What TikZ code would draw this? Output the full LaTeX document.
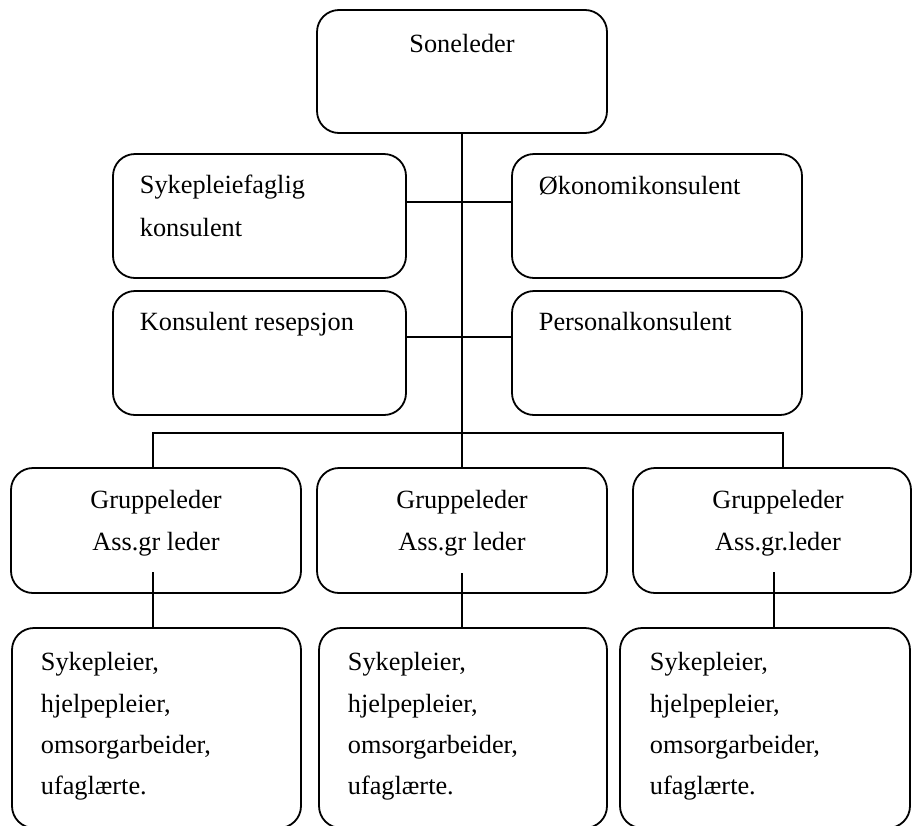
\documentclass[tikz,border=0pt]{standalone}
\usepackage{fontspec}
\setmainfont{Liberation Serif}
\begin{document}
\begin{tikzpicture}[x=1pt,y=-1pt,line width=1.8pt,
  box/.style={draw, rectangle, rounded corners=22pt, inner sep=0pt},
  lbl/.style={inner sep=0pt, font=\fontsize{26.3}{30}\selectfont}]
\useasboundingbox (0,0) rectangle (912,825);
% boxes
\node[box, minimum width=290, minimum height=123] (sone) at (462,71.5) {};
\node[box, minimum width=293, minimum height=124] (syk) at (259.5,216) {};
\node[box, minimum width=290, minimum height=124] (oko) at (657,216) {};
\node[box, minimum width=293, minimum height=124] (kon) at (259.5,353) {};
\node[box, minimum width=290, minimum height=124] (pers) at (657,353) {};
\node[box, minimum width=290, minimum height=125] (g1) at (156,530.5) {};
\node[box, minimum width=290, minimum height=125] (g2) at (462,530.5) {};
\node[box, minimum width=278, minimum height=125] (g3) at (772,530.5) {};
\node[box, minimum width=289, minimum height=200] (b1) at (156.5,728) {};
\node[box, minimum width=288, minimum height=200] (b2) at (463,728) {};
\node[box, minimum width=290, minimum height=200] (b3) at (765,728) {};
% texts
\node[lbl, anchor=base] (tsone) at (462,52) {Soneleder};
\node[lbl, anchor=base west] (tsyk1) at (139,193) {Sykepleiefaglig};
\node[lbl, anchor=base west] (tsyk2) at (139,236) {konsulent};
\node[lbl, anchor=base west] (toko) at (538,194) {Økonomikonsulent};
\node[lbl, anchor=base west] (tkon) at (139,330) {Konsulent resepsjon};
\node[lbl, anchor=base west] (tpers) at (538,330) {Personalkonsulent};
\node[lbl, anchor=base] (tg1a) at (156,508) {Gruppeleder};
\node[lbl, anchor=base] (tg1b) at (156,550) {Ass.gr leder};
\node[lbl, anchor=base] (tg2a) at (462,508) {Gruppeleder};
\node[lbl, anchor=base] (tg2b) at (462,550) {Ass.gr leder};
\node[lbl, anchor=base] (tg3a) at (778,508) {Gruppeleder};
\node[lbl, anchor=base] (tg3b) at (778,550) {Ass.gr.leder};
\foreach \nm/\xx in {b1/40, b2/347, b3/649}{
  \node[lbl, anchor=base west] (\nm l1) at (\xx,670) {Sykepleier,};
  \node[lbl, anchor=base west] (\nm l2) at (\xx,712) {hjelpepleier,};
  \node[lbl, anchor=base west] (\nm l3) at (\xx,753) {omsorgarbeider,};
  \node[lbl, anchor=base west] (\nm l4) at (\xx,794) {ufaglærte.};
}
% connectors
\draw (sone.south) -- (g2.north);
\draw ([yshift=14pt]syk.east) -- ([yshift=14pt]oko.west);
\draw ([yshift=16pt]kon.east) -- ([yshift=16pt]pers.west);
\coordinate (barL) at (153,433);
\coordinate (barR) at (783,433);
\draw (barL |- g1.north) -- (barL) -- (barR) -- (barR |- g3.north);
\coordinate (i1) at (153,572);
\coordinate (i2) at (462,573);
\coordinate (i3) at (774,572);
\draw (i1) -- (i1 |- b1.north);
\draw (i2) -- (i2 |- b2.north);
\draw[line width=2.8pt] (i2 |- g2.south) -- (i2 |- b2.north);
\draw (i3) -- (i3 |- b3.north);
\end{tikzpicture}
\end{document}
